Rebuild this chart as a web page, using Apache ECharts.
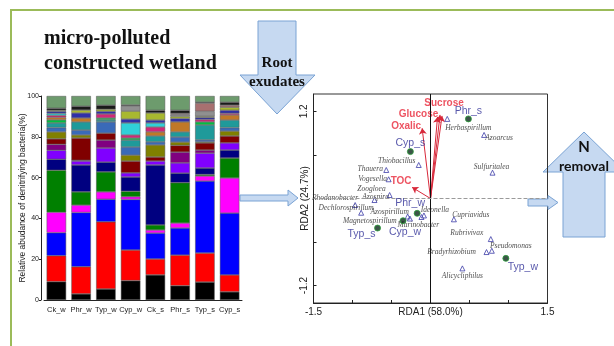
<!DOCTYPE html>
<html>
<head>
<meta charset="utf-8">
<script src="https://cdn.jsdelivr.net/npm/echarts@6/dist/echarts.min.js"></script>
<style>
  html, body { margin: 0; padding: 0; background: #fff; }
  #chart { width: 614px; height: 346px; }
</style>
</head>
<body>
<div id="chart"></div>
<script>
// stacked bars: relative abundance (%) per sample, one row per taxon (bottom -> top)
const samples = ['Ck_w', 'Phr_w', 'Typ_w', 'Cyp_w', 'Ck_s', 'Phr_s', 'Typ_s', 'Cyp_s'];
const taxonNames = [
  'Taxon 1', 'Taxon 2', 'Taxon 3', 'Taxon 4', 'Taxon 5', 'Taxon 6', 'Taxon 7',
  'Taxon 8', 'Taxon 9', 'Taxon 10', 'Taxon 11', 'Taxon 12', 'Taxon 13', 'Taxon 14',
  'Taxon 15', 'Taxon 16', 'Taxon 17', 'Taxon 18', 'Taxon 19', 'Taxon 20', 'Taxon 21', 'Others'
];
const abundance = [
  [9, 3, 5.4, 9.5, 12.3, 7, 8.8, 4],
  [12.7, 13.3, 32.9, 15, 7.8, 15, 14.2, 8.3],
  [11.3, 26.6, 11.1, 24.8, 12.7, 13.3, 35.3, 30.3],
  [10, 3.6, 3.6, 1.3, 1.5, 2.4, 2.5, 17.2],
  [20.6, 6.5, 9.8, 2.7, 2.5, 19.8, 0.7, 9.8],
  [5.4, 13.2, 4.8, 7, 29.4, 4.7, 3.2, 3.9],
  [4.4, 1.9, 6.9, 2, 1.9, 5, 7.3, 3.5],
  [2.9, 0.4, 3.9, 0, 0, 5.3, 1.5, 0],
  [2.7, 10.9, 3.4, 5.8, 2, 3.3, 3.5, 3.4],
  [3.4, 1.5, 0, 2.9, 5.9, 1.6, 0.5, 2.4],
  [2.1, 2.4, 5.5, 4, 1.5, 2.5, 1, 1.7],
  [2.3, 4, 1, 3.4, 2.9, 2.5, 7.3, 3.7],
  [1.5, 0, 0.9, 1, 0, 0, 1.5, 0],
  [1.2, 1.9, 0, 0, 2, 4.9, 0, 2.5],
  [1, 0, 2, 1.5, 2.4, 0, 1.2, 0.8],
  [1, 0, 0, 5.9, 2, 0, 0, 0],
  [1, 2.5, 1.3, 1.9, 1.4, 1.7, 1, 1.5],
  [0.5, 1.4, 1, 3.9, 3.5, 1, 0.5, 1.5],
  [0, 0, 0, 2.5, 0, 1, 2.5, 0],
  [0, 0, 0, 0, 0, 0.5, 4, 1],
  [1, 1.9, 2, 0.5, 1.3, 1.5, 0.5, 1.5],
  [6, 5, 4.5, 4.4, 7, 7, 3, 3]
];
const taxonColors = [
  '#000000', '#ff0000', '#0000ff', '#ff00ff', '#008000', '#000080', '#8000ff',
  '#800080', '#800000', '#808000', '#3a6ab8', '#1f9a9a', '#00c040', '#c07828',
  '#d02878', '#30d0d8', '#3030a8', '#a8b830', '#909090', '#a87070', '#1a1a1a', '#6d9b6d'
];

// RDA ordination
const sampleNames = ['Phr_s', 'Cyp_s', 'Phr_w', 'Cyp_w', 'Typ_s', 'Typ_w'];
const sampleX = [0.486, -0.258, -0.171, -0.352, -0.679, 0.966];
const sampleY = [1.097, 0.646, -0.204, -0.306, -0.407, -0.825];

const genusNames = [
  'Herbaspirillum', 'Azoarcus', 'Sulfuritalea', 'Thiobacillus', 'Thauera', 'Vogesella',
  'Zoogloea', 'Azospira', 'Rhodanobacter', 'Dechlorospirillum', 'Azospirillum',
  'Magnetospirillum', 'Ideonella', 'Marinobacter', 'Cupriavidus', 'Rubrivivax',
  'Pseudomonas', 'Bradyrhizobium', 'Alicycliphilus'
];
const genusX = [0.215, 0.687, 0.795, -0.151, -0.567, -0.537, -0.718, -0.524, -0.966, -0.889,
  -0.293, -0.264, -0.084, -0.116, 0.300, 0.773, 0.786, 0.718, 0.409];
const genusY = [1.097, 0.876, 0.356, 0.462, 0.393, 0.265, -0.021, 0.048, -0.090, -0.196,
  -0.248, -0.276, -0.234, -0.255, -0.287, -0.559, -0.720, -0.738, -0.963];

const envNames = ['Sucrose', 'Glucose', '', 'Oxalic', 'TOC'];
const envX = [0.148, 0.090, 0.122, -0.107, -0.236];
const envY = [1.138, 1.124, 1.152, 0.968, 0.154];

// label placement (pixels from the point)
const labelOffsets = {
  'Herbaspirillum': [21, 9], 'Azoarcus': [15, 3], 'Sulfuritalea': [-1, -6],
  'Thiobacillus': [-22, -4], 'Thauera': [-16, -1], 'Vogesella': [-16, 0],
  'Zoogloea': [-3, -11], 'Azospira': [-14, 2], 'Rhodanobacter': [-20, -7],
  'Dechlorospirillum': [-15, -5], 'Azospirillum': [-18, -4], 'Magnetospirillum': [-40, 3],
  'Ideonella': [11, -5], 'Marinobacter': [-3, 8], 'Cupriavidus': [17, -4],
  'Rubrivivax': [-24, -6], 'Pseudomonas': [19, -5], 'Bradyrhizobium': [-35, 0],
  'Alicycliphilus': [0, 8],
  'Phr_s': [0, -8], 'Cyp_s': [0, -9], 'Phr_w': [-7, -10], 'Cyp_w': [2, 11],
  'Typ_s': [-16, 6], 'Typ_w': [17, 9],
  'Sucrose': [2, -13], 'Glucose': [-19, -3], 'Oxalic': [-16, -2], 'TOC': [-11, -6]
};

const chart = echarts.init(document.getElementById('chart'), null, { renderer: 'canvas' });

const arrowFill = '#c6d9f1';
const arrowStroke = '#7aa3d4';

const barSeries = taxonNames.map((name, i) => ({
  name: name,
  type: 'bar',
  xAxisIndex: 0,
  yAxisIndex: 0,
  stack: 'abundance',
  barWidth: 19.5,
  itemStyle: { color: taxonColors[i], borderColor: '#555', borderWidth: 0.5 },
  data: abundance[i].map(v => (v === 0 ? '-' : v))
}));

const option = {
  animation: false,
  backgroundColor: '#ffffff',
  grid: [
    { left: 44, top: 96, width: 198, height: 204 },
    { left: 313.5, top: 94, width: 234, height: 209, show: true, borderColor: '#333', borderWidth: 1 }
  ],
  xAxis: [
    {
      gridIndex: 0,
      type: 'category',
      data: samples,
      axisTick: { show: false },
      axisLine: { lineStyle: { color: '#222', width: 1 } },
      axisLabel: { fontSize: 7.5, color: '#222', margin: 6, interval: 0, fontFamily: 'Liberation Sans' }
    },
    {
      gridIndex: 1,
      type: 'value',
      min: -1.5,
      max: 1.5,
      interval: 0.5,
      splitLine: { show: false },
      axisLine: { onZero: false, lineStyle: { color: '#222' } },
      axisTick: { inside: true, length: 3, lineStyle: { color: '#222' } },
      axisLabel: {
        fontSize: 10, color: '#222', margin: 4, fontFamily: 'Liberation Sans',
        formatter: v => (Math.abs(v) === 1.5 ? String(v) : '')
      },
      name: 'RDA1 (58.0%)',
      nameLocation: 'middle',
      nameGap: 9,
      nameMoveOverlap: false,
      nameTextStyle: { fontSize: 10, color: '#222', fontFamily: 'Liberation Sans', verticalAlign: 'middle' }
    }
  ],
  yAxis: [
    {
      gridIndex: 0,
      type: 'value',
      min: 0,
      max: 100,
      interval: 20,
      offset: 3,
      splitLine: { show: false },
      axisLine: { show: true, lineStyle: { color: '#222' } },
      axisTick: { show: true, length: 2, lineStyle: { color: '#222' } },
      axisLabel: { fontSize: 7, color: '#222', margin: 2, fontFamily: 'Liberation Sans' },
      name: 'Relative abudance of denitrifying bacteria(%)',
      nameLocation: 'middle',
      nameGap: 18,
      nameMoveOverlap: false,
      nameTextStyle: { fontSize: 8.5, color: '#222', fontFamily: 'Liberation Sans', verticalAlign: 'middle' }
    },
    {
      gridIndex: 1,
      type: 'value',
      min: -1.44,
      max: 1.44,
      splitLine: { show: false },
      axisLine: { onZero: false, lineStyle: { color: '#222' } },
      axisTick: { inside: true, length: 3, customValues: [-1.2, -0.6, 0, 0.6, 1.2], lineStyle: { color: '#222' } },
      axisLabel: {
        customValues: [-1.2, 1.2], rotate: 90, fontSize: 10, color: '#222', margin: 4,
        fontFamily: 'Liberation Sans'
      },
      name: 'RDA2 (24.7%)',
      nameLocation: 'middle',
      nameGap: 8,
      nameMoveOverlap: false,
      nameTextStyle: { fontSize: 10, color: '#222', fontFamily: 'Liberation Sans', verticalAlign: 'middle' }
    }
  ],
  series: barSeries.concat([
    {
      name: 'env',
      type: 'lines',
      coordinateSystem: 'cartesian2d',
      xAxisIndex: 1,
      yAxisIndex: 1,
      symbol: ['none', 'arrow'],
      symbolSize: 6,
      lineStyle: { color: '#d8283a', width: 1, opacity: 1 },
      z: 3,
      data: envNames.map((n, i) => ({ coords: [[0, 0], [envX[i], envY[i]]] }))
    },
    {
      name: 'env labels',
      type: 'scatter',
      xAxisIndex: 1,
      yAxisIndex: 1,
      symbolSize: 1,
      itemStyle: { color: 'rgba(0,0,0,0)' },
      label: {
        show: true, position: 'inside', formatter: '{b}',
        fontSize: 10, fontWeight: 'bold', color: '#e8283a', fontFamily: 'Liberation Sans'
      },
      z: 4,
      data: envNames.map((n, i) => ({
        name: n, value: [envX[i], envY[i]],
        label: { offset: labelOffsets[n] || [0, 0] }
      }))
    },
    {
      name: 'genera',
      type: 'scatter',
      xAxisIndex: 1,
      yAxisIndex: 1,
      symbol: 'triangle',
      symbolSize: 5,
      itemStyle: { color: 'rgba(255,255,255,0)', borderColor: '#3c3ca8', borderWidth: 1 },
      label: {
        show: true, position: 'inside', formatter: '{b}',
        fontSize: 7.5, fontStyle: 'italic', color: '#222', fontFamily: 'Liberation Serif'
      },
      markLine: {
        silent: true,
        symbol: 'none',
        label: { show: false },
        data: [
          { xAxis: 0, lineStyle: { color: '#111', type: 'solid', width: 1 } },
          { yAxis: 0, lineStyle: { color: '#9a9a9a', type: 'dashed', width: 1 } }
        ]
      },
      z: 3,
      data: genusNames.map((n, i) => ({
        name: n, value: [genusX[i], genusY[i]],
        label: { offset: labelOffsets[n] }
      }))
    },
    {
      name: 'samples',
      type: 'scatter',
      xAxisIndex: 1,
      yAxisIndex: 1,
      symbol: 'circle',
      symbolSize: 6,
      itemStyle: { color: '#0b2a1a', borderColor: '#2a9d3a', borderWidth: 1 },
      label: {
        show: true, position: 'inside', formatter: '{b}',
        fontSize: 10.5, color: '#2e2e96', fontFamily: 'Liberation Sans'
      },
      z: 5,
      data: sampleNames.map((n, i) => ({
        name: n, value: [sampleX[i], sampleY[i]],
        label: { offset: labelOffsets[n] }
      }))
    }
  ]),
  graphic: [
    // page frame
    { type: 'line', shape: { x1: 10, y1: 10, x2: 614, y2: 10 }, style: { stroke: '#9bbb59', lineWidth: 2 } },
    { type: 'line', shape: { x1: 11, y1: 9, x2: 11, y2: 346 }, style: { stroke: '#9bbb59', lineWidth: 2 } },
    // title
    {
      type: 'text', x: 44, y: 39,
      style: { text: 'micro-polluted', font: 'bold 20px "Liberation Serif"', fill: '#111', align: 'left', verticalAlign: 'middle' }
    },
    {
      type: 'text', x: 44, y: 64,
      style: { text: 'constructed wetland', font: 'bold 20px "Liberation Serif"', fill: '#111', align: 'left', verticalAlign: 'middle' }
    },
    // root exudates arrow
    {
      type: 'polygon',
      shape: { points: [[258, 21], [296, 21], [296, 75], [315, 75], [277, 114], [240, 75], [258, 75]] },
      style: { fill: arrowFill, stroke: arrowStroke, lineWidth: 1 }
    },
    {
      type: 'text', x: 277, y: 63,
      style: { text: 'Root', font: 'bold 15px "Liberation Serif"', fill: '#111', align: 'center', verticalAlign: 'middle' }
    },
    {
      type: 'text', x: 277, y: 82,
      style: { text: 'exudates', font: 'bold 15px "Liberation Serif"', fill: '#111', align: 'center', verticalAlign: 'middle' }
    },
    // bars -> RDA
    {
      type: 'polygon',
      shape: { points: [[240, 195], [288, 195], [288, 190], [298, 198], [288, 206], [288, 201], [240, 201]] },
      style: { fill: arrowFill, stroke: arrowStroke, lineWidth: 1 }
    },
    // RDA -> N removal
    {
      type: 'polygon',
      shape: { points: [[528, 199], [548, 199], [548, 195.5], [558, 202.5], [548, 209.5], [548, 206], [528, 206]] },
      style: { fill: arrowFill, stroke: arrowStroke, lineWidth: 1 }
    },
    {
      type: 'polygon',
      z: -1,
      shape: { points: [[584, 132], [625, 172], [605, 172], [605, 237], [563, 237], [563, 172], [543, 172]] },
      style: { fill: arrowFill, stroke: arrowStroke, lineWidth: 1 }
    },
    {
      type: 'text', x: 584, y: 147.5,
      style: { text: 'N', font: 'bold 15px Lato', fill: '#111', align: 'center', verticalAlign: 'middle' }
    },
    {
      type: 'text', x: 584, y: 166,
      style: { text: 'removal', font: 'bold 14px Lato', fill: '#111', align: 'center', verticalAlign: 'middle' }
    }
  ]
};

chart.setOption(option);
</script>
</body>
</html>
